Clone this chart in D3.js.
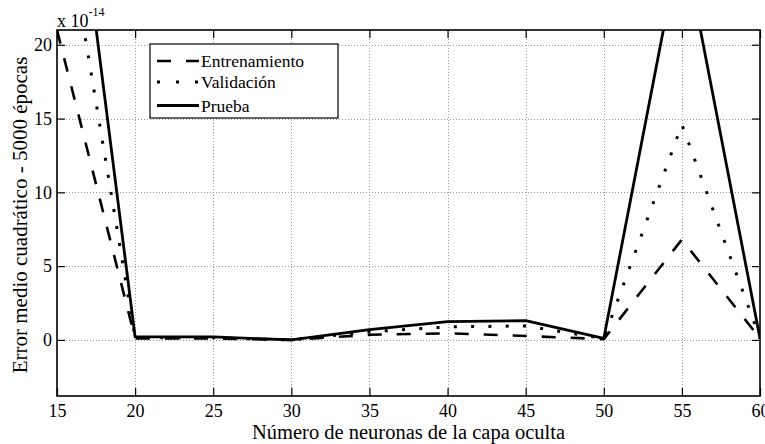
<!DOCTYPE html>
<html>
<head>
<meta charset="utf-8">
<script src="https://cdn.jsdelivr.net/npm/d3@7"></script>
<style>
  body { margin: 0; background: #fff; }
</style>
</head>
<body>
<div id="container"></div>
<script>
// values in units of 1e-14
const neuronas = [15, 20, 25, 30, 35, 40, 45, 50, 55, 60];
const entrenamiento = [21, 0.1, 0.1, 0, 0.35, 0.45, 0.27, 0.05, 6.8, 0.1];
const validacion = [32, 0.15, 0.15, 0, 0.55, 0.88, 0.95, 0.1, 14.6, 0.1];
const prueba = [42, 0.2, 0.2, 0, 0.7, 1.24, 1.3, 0.1, 27.5, 0.1];

const xTicks = [15, 20, 25, 30, 35, 40, 45, 50, 55, 60];
const yTicks = [0, 5, 10, 15, 20];

const series = [
    { name: 'Entrenamiento', values: entrenamiento, dash: '14,15', width: 2.6 },
    { name: 'Validación', values: validacion, dash: '3,14.3', width: 3 },
    { name: 'Prueba', values: prueba, dash: null, width: 2.8 }
];

const FONT = '"Liberation Serif", "Times New Roman", serif';
const W = 765, H = 444;
const pLeft = 57, pRight = 760, pTop = 30, pBottom = 396;

const svg = d3.select('#container')
    .append('svg')
    .attr('width', W)
    .attr('height', H)
    .style('font-family', FONT);

const x = d3.scaleLinear().domain([15, 60]).range([pLeft, pRight]);
const y = d3.scaleLinear().domain([-3.8, 21]).range([pBottom, pTop]);

// grid
const grid = svg.append('g')
    .attr('stroke', '#999')
    .attr('stroke-width', 1)
    .attr('stroke-dasharray', '1,2');

grid.selectAll('.gx')
    .data(xTicks.slice(1, -1))
    .enter()
    .append('line')
    .attr('x1', d => Math.round(x(d)) + 0.5)
    .attr('x2', d => Math.round(x(d)) + 0.5)
    .attr('y1', pTop)
    .attr('y2', pBottom);

grid.selectAll('.gy')
    .data(yTicks)
    .enter()
    .append('line')
    .attr('y1', d => Math.round(y(d)) + 0.5)
    .attr('y2', d => Math.round(y(d)) + 0.5)
    .attr('x1', pLeft)
    .attr('x2', pRight);

// data lines
svg.append('clipPath')
    .attr('id', 'clip')
    .append('rect')
    .attr('x', pLeft)
    .attr('y', pTop)
    .attr('width', pRight - pLeft)
    .attr('height', pBottom - pTop);

const line = d3.line()
    .x((d, i) => x(neuronas[i]))
    .y(d => y(d));

svg.append('g')
    .attr('clip-path', 'url(#clip)')
    .selectAll('path')
    .data(series)
    .enter()
    .append('path')
    .attr('d', s => line(s.values))
    .attr('fill', 'none')
    .attr('stroke', '#000')
    .attr('stroke-width', s => s.width)
    .attr('stroke-dasharray', s => s.dash)
    .attr('stroke-linejoin', 'round');

// axes (ticks inside)
const tickLen = 8;
const axisBottom = d3.axisBottom(x).tickValues(xTicks).tickSizeInner(-tickLen).tickSizeOuter(0).tickPadding(8);
const axisTop = d3.axisTop(x).tickValues(xTicks).tickSizeInner(-tickLen).tickSizeOuter(0).tickFormat('');
const axisLeft = d3.axisLeft(y).tickValues(yTicks).tickSizeInner(-tickLen).tickSizeOuter(0).tickPadding(5);
const axisRight = d3.axisRight(y).tickValues(yTicks).tickSizeInner(-tickLen).tickSizeOuter(0).tickFormat('');

const styleAxis = g => {
    g.attr('font-family', null).attr('font-size', 18);
    g.select('.domain').remove();
    g.selectAll('line').attr('stroke', '#000').attr('stroke-width', 1.2);
    g.selectAll('text').attr('fill', '#000').style('font-family', FONT);
};

svg.append('g').attr('transform', `translate(0,${pBottom})`).call(axisBottom).call(styleAxis);
svg.append('g').attr('transform', `translate(0,${pTop})`).call(axisTop).call(styleAxis);
svg.append('g').attr('transform', `translate(${pLeft},0)`).call(axisLeft).call(styleAxis);
svg.append('g').attr('transform', `translate(${pRight},0)`).call(axisRight).call(styleAxis);

// frame
svg.append('rect')
    .attr('x', pLeft)
    .attr('y', pTop)
    .attr('width', pRight - pLeft)
    .attr('height', pBottom - pTop)
    .attr('fill', 'none')
    .attr('stroke', '#000')
    .attr('stroke-width', 1.6);

// exponent label
const expo = svg.append('text')
    .attr('x', pLeft)
    .attr('y', 27)
    .style('font-family', FONT)
    .attr('font-size', 18);
expo.append('tspan').text('x 10');
expo.append('tspan').attr('dy', -11).attr('font-size', 12).text('-14');

// axis titles
svg.append('text')
    .attr('x', (pLeft + pRight) / 2)
    .attr('y', 439)
    .attr('text-anchor', 'middle')
    .style('font-family', FONT)
    .attr('font-size', 20.5)
    .text('Número de neuronas de la capa oculta');

svg.append('text')
    .attr('transform', `translate(27,215) rotate(-90)`)
    .attr('text-anchor', 'middle')
    .style('font-family', FONT)
    .attr('font-size', 21)
    .text('Error medio cuadrático - 5000 épocas');

// legend
const legend = svg.append('g').attr('transform', 'translate(150,44)');
legend.append('rect')
    .attr('width', 188)
    .attr('height', 74)
    .attr('fill', '#fff')
    .attr('stroke', '#000')
    .attr('stroke-width', 1.2);

const rows = legend.selectAll('.row')
    .data(series)
    .enter()
    .append('g')
    .attr('transform', (s, i) => `translate(0,${[17, 38, 61.5][i]})`);

rows.append('line')
    .attr('x1', 7)
    .attr('x2', 49)
    .attr('stroke', '#000')
    .attr('stroke-width', s => s.width)
    .attr('stroke-dasharray', s => s.dash === '3,14.3' ? '3,16' : s.dash);

rows.append('text')
    .attr('x', 51)
    .attr('dy', '0.35em')
    .style('font-family', FONT)
    .attr('font-size', 17.5)
    .text(s => s.name);
</script>
</body>
</html>
